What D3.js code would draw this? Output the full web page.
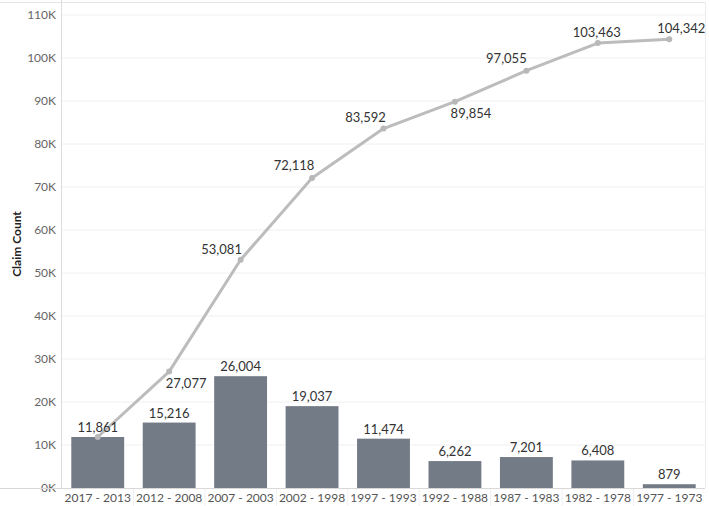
<!DOCTYPE html>
<html>
<head>
<meta charset="utf-8">
<script src="https://cdn.jsdelivr.net/npm/d3@7"></script>
<style>
  body { margin: 0; background: #fff; }
  text { font-family: Lato, "Open Sans", sans-serif; }
</style>
</head>
<body>
<div id="chart"></div>
<script>
// Data
const periods = ["2017 - 2013", "2012 - 2008", "2007 - 2003", "2002 - 1998", "1997 - 1993",
                 "1992 - 1988", "1987 - 1983", "1982 - 1978", "1977 - 1973"];
const claimCounts = [11861, 15216, 26004, 19037, 11474, 6262, 7201, 6408, 879];
const cumulativeCounts = [11861, 27077, 53081, 72118, 83592, 89854, 97055, 103463, 104342];
const yTicks = [0, 10000, 20000, 30000, 40000, 50000, 60000, 70000, 80000, 90000, 100000, 110000];

// label placement for the running total (first point shares the bar label)
const lineLabelOffset = [null, [17, 12], [-19, -10], [-18, -12], [-18, -11], [16, 12], [-20, -12], [-1, -11], [12, -11]];

const width = 709, height = 506;
const margin = { top: 2, right: 4, bottom: 18, left: 62 };

const svg = d3.select("#chart")
    .append("svg")
    .attr("width", width)
    .attr("height", height);

const x = d3.scaleBand()
    .domain(periods)
    .range([margin.left, width - margin.right])
    .paddingInner(0.26)
    .paddingOuter(0.13);

const y = d3.scaleLinear()
    .domain([0, 110000])
    .range([488, 15]);

// gridlines
svg.append("g")
    .selectAll("line")
    .data(yTicks.slice(1))
    .join("line")
        .attr("x1", margin.left)
        .attr("x2", width - margin.right)
        .attr("y1", d => y(d))
        .attr("y2", d => y(d))
        .attr("stroke", "#f0f0f0")
        .attr("stroke-width", 1);

// borders
svg.append("line")
    .attr("x1", 0).attr("x2", width - margin.right)
    .attr("y1", 2.5).attr("y2", 2.5)
    .attr("stroke", "#e4e4e4");
svg.append("line")
    .attr("x1", width - margin.right + 0.5).attr("x2", width - margin.right + 0.5)
    .attr("y1", 2).attr("y2", 488)
    .attr("stroke", "#ececec");

// faint separators under the x axis
const step = x.step();
svg.append("g")
    .selectAll("line")
    .data(periods.slice(1))
    .join("line")
        .attr("x1", (d, i) => margin.left + step * (i + 1))
        .attr("x2", (d, i) => margin.left + step * (i + 1))
        .attr("y1", 488)
        .attr("y2", height)
        .attr("stroke", "#f0f0f0");

// y axis
const yAxis = d3.axisLeft(y)
    .tickValues(yTicks)
    .tickSize(0)
    .tickPadding(6)
    .tickFormat(d => (d / 1000) + "K");

const gy = svg.append("g")
    .attr("transform", `translate(${margin.left},0)`)
    .call(yAxis);
gy.select(".domain").remove();
gy.selectAll("text")
    .attr("fill", "#666")
    .attr("font-size", "12px")
    .attr("font-family", "Lato, sans-serif");

svg.append("line")
    .attr("x1", margin.left - 0.5).attr("x2", margin.left - 0.5)
    .attr("y1", 0).attr("y2", 488)
    .attr("stroke", "#dcdcdc");

// y axis title
svg.append("text")
    .attr("transform", "translate(21,244) rotate(-90)")
    .attr("text-anchor", "middle")
    .attr("font-size", "12px")
    .attr("font-weight", "bold")
    .attr("fill", "#222")
    .text("Claim Count");

// bars
svg.append("g")
    .selectAll("rect")
    .data(claimCounts)
    .join("rect")
        .attr("x", (d, i) => x(periods[i]))
        .attr("y", d => y(d))
        .attr("width", x.bandwidth())
        .attr("height", d => y(0) - y(d))
        .attr("fill", "#737b87");

// zero line
svg.append("line")
    .attr("x1", 0).attr("x2", width - margin.right)
    .attr("y1", 488.5).attr("y2", 488.5)
    .attr("stroke", "#d8d8d8");

// x axis labels
svg.append("g")
    .selectAll("text")
    .data(periods)
    .join("text")
        .attr("x", d => x(d) + x.bandwidth() / 2)
        .attr("y", 502)
        .attr("text-anchor", "middle")
        .attr("font-size", "12px")
        .attr("fill", "#555")
        .text(d => d);

// running total line
const cx = i => x(periods[i]) + x.bandwidth() / 2;
const line = d3.line()
    .x((d, i) => cx(i))
    .y(d => y(d));

svg.append("path")
    .datum(cumulativeCounts)
    .attr("d", line)
    .attr("fill", "none")
    .attr("stroke", "#bcbcbc")
    .attr("stroke-width", 3)
    .attr("stroke-linejoin", "round");

svg.append("g")
    .selectAll("circle")
    .data(cumulativeCounts)
    .join("circle")
        .attr("cx", (d, i) => cx(i))
        .attr("cy", d => y(d))
        .attr("r", 3)
        .attr("fill", "#b8b8b8");

// bar labels
svg.append("g")
    .selectAll("text")
    .data(claimCounts)
    .join("text")
        .attr("x", (d, i) => cx(i))
        .attr("y", d => y(d) - 5)
        .attr("text-anchor", "middle")
        .attr("font-size", "13px")
        .attr("fill", "#333")
        .text(d => d3.format(",")(d));

// line labels
svg.append("g")
    .selectAll("text")
    .data(cumulativeCounts.map((v, i) => ({ v, i })).filter(d => lineLabelOffset[d.i]))
    .join("text")
        .attr("x", d => cx(d.i) + lineLabelOffset[d.i][0])
        .attr("y", d => y(d.v) + lineLabelOffset[d.i][1])
        .attr("dy", "0.35em")
        .attr("text-anchor", "middle")
        .attr("font-size", "13px")
        .attr("fill", "#333")
        .text(d => d3.format(",")(d.v));
</script>
</body>
</html>
